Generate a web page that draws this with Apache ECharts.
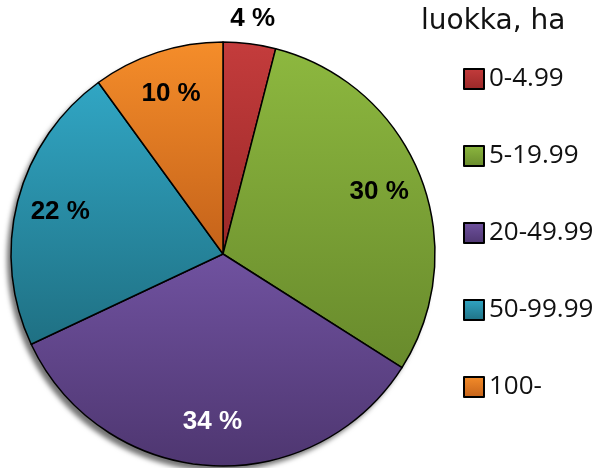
<!DOCTYPE html>
<html lang="fi">
<head>
  <meta charset="UTF-8">
  <title>luokka, ha</title>
  <style>
    html, body { margin: 0; padding: 0; background: #fff; }
  </style>
</head>
<body>
  <div id="main" style="width: 602px;height:468px;"></div>

  <script src="https://cdn.jsdelivr.net/npm/echarts@6/dist/echarts.min.js"></script>
  <script>
    const classes = ['0-4.99', '5-19.99', '20-49.99', '50-99.99', '100-'];
    const shares = [4, 30, 34, 22, 10];
    // top / bottom colour of each slice gradient
    const lightColors = ['#c43c3c', '#8db83f', '#7052a0', '#31a6c4', '#f58d2a'];
    const darkColors = ['#9a2828', '#688a2c', '#4e3670', '#1f7083', '#c4621a'];
    const labelColors = ['#000', '#000', '#fff', '#000', '#000'];

    const myChart = echarts.init(document.getElementById('main'));

    const grad = (i) => new echarts.graphic.LinearGradient(0, 0, 0, 1, [
      { offset: 0, color: lightColors[i] },
      { offset: 1, color: darkColors[i] }
    ]);

    const center = [223, 254];
    const R = 212;
    const labelFont = {
      fontFamily: 'Liberation Sans',
      fontWeight: 'bold',
      fontSize: 26
    };

    const mainData = classes.map((name, i) => ({
      name: name,
      value: shares[i],
      itemStyle: { color: grad(i) }
    }));

    // invisible rings only used to place the percentage labels
    const innerLabelData = classes.map((name, i) => ({
      name: name,
      value: shares[i],
      label: { show: i > 0, color: labelColors[i] }
    }));
    const outerLabelData = classes.map((name, i) => ({
      name: name,
      value: shares[i],
      label: { show: i === 0, color: labelColors[i] }
    }));

    const labelRing = (radius, data) => ({
      type: 'pie',
      center: center,
      radius: radius,
      startAngle: 90,
      clockwise: true,
      silent: true,
      animation: false,
      itemStyle: { color: 'rgba(0,0,0,0)', borderWidth: 0 },
      label: Object.assign({
        position: 'inside',
        formatter: (p) => p.value + ' %'
      }, labelFont),
      labelLine: { show: false },
      data: data
    });

    const options = {
      animation: false,
      title: {
        text: 'luokka, ha',
        left: 421,
        top: 8,
        padding: 0,
        textStyle: {
          fontFamily: 'DejaVu Sans',
          fontWeight: 'normal',
          fontSize: 28,
          color: '#111'
        }
      },
      legend: {
        orient: 'vertical',
        left: 463,
        top: 66,
        padding: 0,
        icon: 'rect',
        itemWidth: 20,
        itemHeight: 20,
        itemGap: 51,
        data: classes,
        textStyle: {
          fontFamily: 'Open Sans',
          fontSize: 26,
          lineHeight: 24,
          color: '#111'
        }
      },
      series: [
        {
          // shadow disc behind the pie
          type: 'pie',
          center: center,
          radius: R,
          silent: true,
          label: { show: false },
          itemStyle: {
            color: '#fff',
            shadowColor: 'rgba(0,0,0,0.55)',
            shadowBlur: 5,
            shadowOffsetX: -4,
            shadowOffsetY: 5
          },
          data: [{ name: '', value: 1 }]
        },
        {
          type: 'pie',
          center: center,
          radius: R,
          startAngle: 90,
          clockwise: true,
          label: { show: false },
          labelLine: { show: false },
          itemStyle: { borderColor: '#000', borderWidth: 1.5 },
          data: mainData
        },
        labelRing([118, R], innerLabelData),
        labelRing([R, 256], outerLabelData)
      ]
    };

    myChart.setOption(options);
  </script>
</body>
</html>
